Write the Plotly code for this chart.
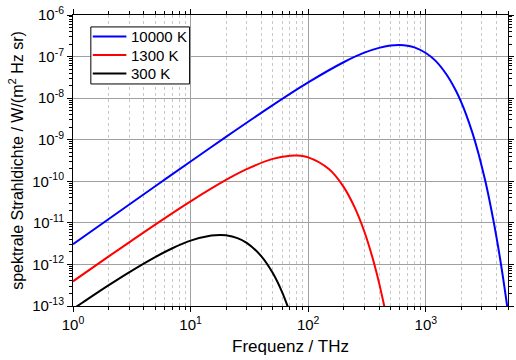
import plotly.graph_objects as go

# Spectral radiance samples (frequency in THz, radiance in W/(m^2 Hz sr))
freq_10000 = [1, 2, 5, 10, 20, 50, 100, 200, 300, 400, 500, 600, 700, 800,
              1000, 1200, 1500, 1800, 2000, 2200, 2500, 2800, 3000, 3200,
              3500, 3800, 4000, 4200, 4500, 4800, 5000]
rad_10000 = [3.06e-12, 1.22e-11, 7.6e-11, 3.0e-10, 1.17e-9, 6.8e-9, 2.39e-8,
             7.3e-8, 1.24e-7, 1.62e-7, 1.84e-7, 1.90e-7, 1.82e-7, 1.66e-7,
             1.22e-7, 8.1e-8, 3.7e-8, 1.52e-8, 8.0e-9, 4.07e-9, 1.42e-9,
             4.73e-10, 2.2e-10, 1.04e-10, 3.2e-11, 9.7e-12, 4.35e-12,
             1.93e-12, 5.6e-13, 1.62e-13, 7.0e-14]

freq_1300 = [1, 2, 5, 10, 20, 30, 50, 70, 80, 100, 150, 200, 250, 300, 350,
             400, 450]
rad_1300 = [3.92e-13, 1.54e-12, 9.1e-12, 3.3e-11, 1.08e-10, 1.96e-10, 3.46e-10,
            4.13e-10, 4.16e-10, 3.77e-10, 1.97e-10, 7.35e-11, 2.26e-11,
            6.2e-12, 1.55e-12, 3.65e-13, 8.2e-14]

freq_300 = [1, 1.2, 2, 3, 5, 7, 10, 15, 18, 20, 25, 30, 40, 50, 60, 70]
rad_300 = [8.5e-14, 1.2e-13, 3.13e-13, 6.46e-13, 1.5e-12, 2.45e-12, 3.73e-12,
           4.97e-12, 5.12e-12, 5.02e-12, 4.3e-12, 3.31e-12, 1.57e-12,
           6.2e-13, 2.16e-13, 6.9e-14]

series = [
    ("10000 K", freq_10000, rad_10000, "#0000ff"),
    ("1300 K", freq_1300, rad_1300, "#ff0000"),
    ("300 K", freq_300, rad_300, "#000000"),
]

x_tickvals = [1, 10, 100, 1000]
x_ticktext = ["10<sup>0</sup>", "10<sup>1</sup>", "10<sup>2</sup>", "10<sup>3</sup>"]
y_exponents = [-13, -12, -11, -10, -9, -8, -7, -6]
y_tickvals = [10.0 ** e for e in y_exponents]
y_ticktext = [f"10<sup>{e}</sup>" for e in y_exponents]

X_RANGE = [0, 3.69897]
Y_RANGE = [-13, -6]

fig = go.Figure()
for name, f, r, color in series:
    fig.add_trace(go.Scatter(
        x=f, y=r, mode="lines", name=name, showlegend=False,
        line=dict(color=color, width=2, shape="spline", smoothing=0.9),
    ))

# empty trace that carries the mirrored top/right tick axes
fig.add_trace(go.Scatter(x=[None], y=[None], xaxis="x2", yaxis="y2",
                         showlegend=False, hoverinfo="skip", mode="lines"))

# compact boxed legend in the upper left corner of the plot area
box = dict(x0=0.041, x1=0.268, y0=0.763, y1=0.959)
fig.add_shape(type="rect", xref="paper", yref="paper", **box,
              line=dict(color="black", width=1), fillcolor="white", layer="above")
row_y = [0.926, 0.8625, 0.799]
for (name, _, _, color), yy in zip(series, row_y):
    fig.add_shape(type="line", xref="paper", yref="paper",
                  x0=0.0455, x1=0.1227, y0=yy, y1=yy,
                  line=dict(color=color, width=2), layer="above")
    fig.add_annotation(xref="paper", yref="paper", x=0.128, y=yy,
                       text=name, showarrow=False, xanchor="left",
                       yanchor="middle", font=dict(size=15))

font_family = "Liberation Sans, Arial, sans-serif"

tick_common = dict(
    ticks="outside", ticklen=5, tickwidth=1, tickcolor="black",
    showline=True, linecolor="black", linewidth=1, zeroline=False,
)

fig.update_layout(
    width=516, height=360,
    margin=dict(l=73, r=3, t=15, b=54),
    paper_bgcolor="white", plot_bgcolor="white",
    font=dict(family=font_family, size=15, color="black"),
    showlegend=False,
    xaxis=dict(
        type="log", range=X_RANGE,
        tickmode="array", tickvals=x_tickvals, ticktext=x_ticktext,
        showgrid=True, gridcolor="#a0a0a0", gridwidth=1,
        minor=dict(ticks="outside", ticklen=3, tickcolor="black", dtick="D1",
                   showgrid=True, gridcolor="#c8c8c8", griddash="dot"),
        title=dict(text="Frequenz / THz", font=dict(size=17), standoff=8),
        tickfont=dict(size=15),
        **tick_common,
    ),
    yaxis=dict(
        type="log", range=Y_RANGE,
        tickmode="array", tickvals=y_tickvals, ticktext=y_ticktext,
        showgrid=True, gridcolor="#a0a0a0", gridwidth=1,
        minor=dict(ticks="outside", ticklen=3, tickcolor="black", dtick="D1",
                   showgrid=False),
        title=dict(text="spektrale Strahldichte / W/(m<sup>2</sup> Hz sr)",
                   font=dict(size=16), standoff=4),
        tickfont=dict(size=15),
        **tick_common,
    ),
    xaxis2=dict(
        type="log", range=X_RANGE, overlaying="x", side="top",
        anchor="y2", showticklabels=False, showgrid=False,
        tickmode="array", tickvals=x_tickvals,
        minor=dict(ticks="outside", ticklen=3, tickcolor="black", dtick="D1",
                   showgrid=False),
        **tick_common,
    ),
    yaxis2=dict(
        type="log", range=Y_RANGE, overlaying="y", side="right",
        anchor="x2", showticklabels=False, showgrid=False,
        tickmode="array", tickvals=y_tickvals,
        minor=dict(ticks="outside", ticklen=3, tickcolor="black", dtick="D1",
                   showgrid=False),
        **tick_common,
    ),
)

fig.write_html("out.html")
